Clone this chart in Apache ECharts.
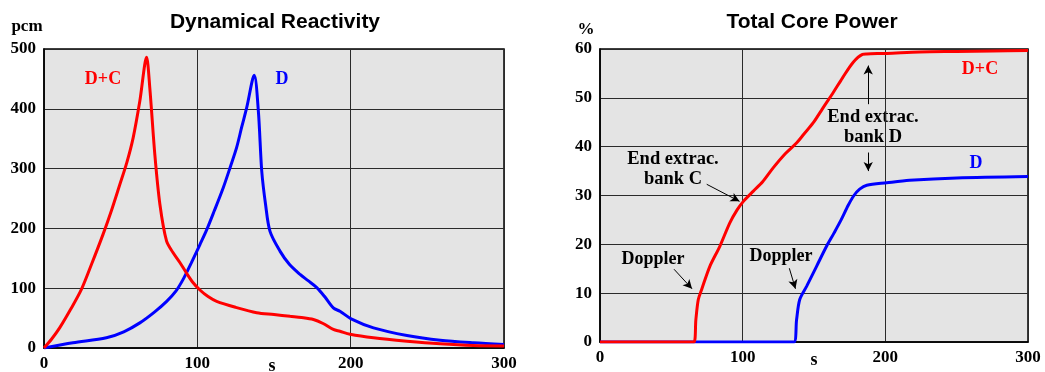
<!DOCTYPE html>
<html>
<head>
<meta charset="utf-8">
<script src="https://cdn.jsdelivr.net/npm/echarts@6/dist/echarts.min.js"></script>
<style>
html,body{margin:0;padding:0;background:#fff;}
#c{width:1045px;height:372px;}
</style>
</head>
<body>
<div id="c"></div>
<script>
// ---- Dynamical Reactivity (pcm) ----
var reactTimeDC = [0, 5, 10.3, 17, 24.4, 31, 38.5, 44, 49.4, 54, 58.1, 62.5, 66.9, 69, 72.3, 75.6, 79.9, 84, 88.6, 93, 97, 101.7, 107, 112.6, 125, 138.7, 150, 160.5, 168, 175.7, 182, 188.7, 193, 199.6, 214.9, 236.7, 258.4, 280, 300];
var reactDC     = [0, 15, 34, 63, 98, 140, 190, 230, 273, 310, 351, 413, 486, 435, 323, 240, 179, 160, 143, 125, 110, 97, 86, 78, 68, 59, 56, 53, 51, 47.7, 41, 31, 28, 23, 17, 11.4, 7, 4.2, 3.5];
var reactTimeD  = [0, 18.9, 40.7, 52, 62.5, 72, 80, 86, 91, 96, 101.7, 106, 111, 116.9, 121.4, 125.6, 129, 132.2, 137.1, 139.8, 142, 144.5, 147.4, 153.9, 160, 167, 172, 177.9, 183, 188.7, 193, 200.3, 214.9, 236.7, 258.4, 280.2, 300];
var reactD      = [0, 8.7, 17, 27, 42, 60, 78, 95, 116, 142, 173, 197, 229, 268, 302, 335, 370, 402, 456, 396, 296, 240, 195, 162, 140, 123, 113, 101, 86, 67, 61.5, 48.8, 33.7, 21, 13, 8.7, 6];

// ---- Total Core Power (%) ----
var powerTimeDC = [0, 65.8, 67.2, 68.9, 71.2, 77, 84, 91, 96, 100.5, 107.5, 114, 121.5, 130, 137.9, 143, 149.5, 156, 163.5, 170, 177.5, 184, 187, 201, 224, 250, 275, 300];
var powerDC     = [0, 0, 4.6, 8.7, 10.7, 15.5, 19.6, 24.4, 27, 28.8, 30.9, 32.8, 35.7, 38.6, 40.8, 42.6, 44.9, 47.8, 51.1, 54.1, 57.3, 58.9, 59, 59.1, 59.4, 59.5, 59.6, 59.7];
var powerTimeD  = [0, 135.9, 137.8, 140, 144.8, 151.8, 158.8, 164, 169, 174, 178, 182, 187, 201, 217, 250, 300];
var powerD      = [0, 0, 4.6, 8.7, 11.4, 15.5, 19.6, 22.3, 25, 28, 30, 31.3, 32.1, 32.6, 33.1, 33.6, 33.9];

function pairs(xs, ys) { return xs.map(function (x, i) { return [x, ys[i]]; }); }

var RED = '#ff0000', BLUE = '#0000ff';
var serif = '"Liberation Serif", "Times New Roman", serif';
var sans = '"Liberation Sans", Arial, sans-serif';

var tickLabel = { color: '#000', fontFamily: serif, fontWeight: 'bold', fontSize: 17 };
var splitLine = { show: true, lineStyle: { color: '#2a2a2a', width: 1 } };

function xAx(gi) {
  return { type: 'value', gridIndex: gi, min: 0, max: 300, interval: 100,
    axisLine: { show: true, lineStyle: { color: '#000', width: 1.5 } },
    axisTick: { show: false }, splitLine: splitLine,
    axisLabel: Object.assign({ margin: 7 }, tickLabel) };
}
function yAx(gi, max, interval) {
  return { type: 'value', gridIndex: gi, min: 0, max: max, interval: interval,
    axisLine: { show: true, lineStyle: { color: '#000', width: 1.5 } },
    axisTick: { show: false }, splitLine: splitLine,
    axisLabel: Object.assign({ margin: 8 }, tickLabel) };
}
function line(name, xi, data, color, extra) {
  return Object.assign({ name: name, type: 'line', xAxisIndex: xi, yAxisIndex: xi,
    data: data, showSymbol: false, smooth: 0.3,
    lineStyle: { color: color, width: 3 }, itemStyle: { color: color } }, extra || {});
}
function arrow(a, b) { return [{ coord: a }, { coord: b }]; }

function txt(x, y, s, color, size, family) {
  return { type: 'text', x: x, y: y, silent: true,
    style: { text: s, fill: color, font: 'bold ' + (size || 18) + 'px ' + (family || serif),
      textAlign: 'center', textVerticalAlign: 'middle', lineHeight: 20 } };
}

var chart = echarts.init(document.getElementById('c'), null, { renderer: 'canvas' });
chart.setOption({
  animation: false,
  backgroundColor: '#fff',
  grid: [
    { left: 44, top: 49, width: 460, height: 300, show: true, backgroundColor: '#e4e4e4', borderColor: '#000', borderWidth: 1.5 },
    { left: 600, top: 49, width: 428, height: 293, show: true, backgroundColor: '#e4e4e4', borderColor: '#000', borderWidth: 1.5 }
  ],
  xAxis: [xAx(0), xAx(1)],
  yAxis: [yAx(0, 500, 100), yAx(1, 60, 10)],
  series: [
    line('D', 0, pairs(reactTimeD, reactD), BLUE),
    line('D+C', 0, pairs(reactTimeDC, reactDC), RED),
    line('D', 1, pairs(powerTimeD, powerD), BLUE),
    line('D+C', 1, pairs(powerTimeDC, powerDC), RED, {
      markLine: {
        silent: true, symbol: ['none', 'arrow'], symbolSize: [7, 9], precision: 2,
        label: { show: false },
        lineStyle: { color: '#000', width: 1, type: 'solid' },
        data: [
          arrow([188, 48.7], [188, 56.6]),
          arrow([188, 38.8], [188, 35.0]),
          arrow([74.8, 32.3], [97.8, 28.8]),
          arrow([51.9, 14.9], [64.5, 10.9]),
          arrow([132.7, 15.1], [137.0, 10.9])
        ]
      }
    })
  ],
  graphic: [
    txt(275, 22, 'Dynamical Reactivity', '#000', 21, sans),
    txt(812, 22, 'Total Core Power', '#000', 21, sans),
    txt(27, 27, 'pcm', '#000', 17),
    txt(586, 30, '%', '#000', 17),
    txt(272, 366, 's', '#000', 18),
    txt(814, 360, 's', '#000', 18),
    txt(103, 79, 'D+C', RED, 18),
    txt(282, 79, 'D', BLUE, 18),
    txt(980, 69, 'D+C', RED, 18),
    txt(976, 163, 'D', BLUE, 18),
    txt(873, 127.5, 'End extrac.\nbank D', '#000', 18.5),
    txt(673, 169.5, 'End extrac.\nbank C', '#000', 18.5),
    txt(653, 259, 'Doppler', '#000', 18),
    txt(781, 256, 'Doppler', '#000', 18)
  ]
});
</script>
</body>
</html>
